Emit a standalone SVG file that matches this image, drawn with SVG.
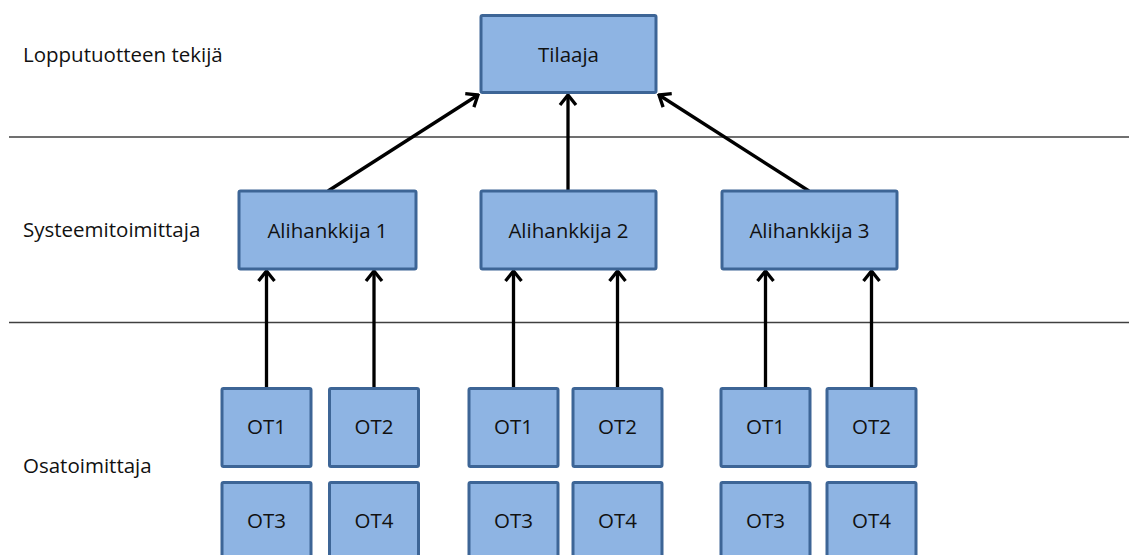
<svg xmlns="http://www.w3.org/2000/svg" width="1129" height="555" viewBox="0 0 1129 555">
  <style>
    .box { fill: #8eb4e3; stroke: #3d6596; stroke-width: 3; }
    .lbl { font-family: "Open Sans", "Liberation Sans", sans-serif; font-size: 20.5px; fill: #111; }
    .mid { text-anchor: middle; }
    .sep { stroke: #404040; stroke-width: 1.3; }
    .arr { stroke: #000; stroke-width: 3.3; fill: none; marker-end: url(#head); }
  </style>
  <defs>
    <marker id="head" viewBox="-14 -11 16 22" refX="0" refY="0" markerWidth="16" markerHeight="22" markerUnits="userSpaceOnUse" orient="auto">
      <path d="M-10,-8 L0,0 L-10,8" fill="none" stroke="#000" stroke-width="3.3" stroke-linejoin="miter"/>
    </marker>
  </defs>
  <rect width="1129" height="555" fill="#fff"/>

  <g id="separators">
    <line class="sep" x1="9" y1="137" x2="1129" y2="137"/>
    <line class="sep" x1="9" y1="322.5" x2="1129" y2="322.5"/>
  </g>

  <g id="level-labels">
    <text class="lbl" x="23" y="62">Lopputuotteen tekijä</text>
    <text class="lbl" x="23" y="237">Systeemitoimittaja</text>
    <text class="lbl" x="23" y="473">Osatoimittaja</text>
  </g>

  <g id="connectors">
    <line class="arr" x1="328" y1="191" x2="478" y2="95"/>
    <line class="arr" x1="568" y1="191" x2="568" y2="95"/>
    <line class="arr" x1="809" y1="191" x2="659" y2="95"/>
    <line class="arr" x1="266.5" y1="388" x2="266.5" y2="271"/>
    <line class="arr" x1="374" y1="388" x2="374" y2="271"/>
    <line class="arr" x1="513.5" y1="388" x2="513.5" y2="271"/>
    <line class="arr" x1="617.5" y1="388" x2="617.5" y2="271"/>
    <line class="arr" x1="765.5" y1="388" x2="765.5" y2="271"/>
    <line class="arr" x1="871.5" y1="388" x2="871.5" y2="271"/>
  </g>

  <g id="tilaaja">
    <rect class="box" x="481" y="15.5" width="175" height="77" rx="1.5"/>
    <text class="lbl mid" x="568.5" y="62">Tilaaja</text>
  </g>

  <g id="alihankkija1">
    <rect class="box" x="239" y="191" width="177" height="78" rx="1.5"/>
    <text class="lbl mid" x="327.5" y="238">Alihankkija 1</text>
  </g>
  <g id="alihankkija2">
    <rect class="box" x="481" y="191" width="175" height="78" rx="1.5"/>
    <text class="lbl mid" x="568.5" y="238">Alihankkija 2</text>
  </g>
  <g id="alihankkija3">
    <rect class="box" x="722" y="191" width="175" height="78" rx="1.5"/>
    <text class="lbl mid" x="809.5" y="238">Alihankkija 3</text>
  </g>

  <g id="g1-ot1"><rect class="box" x="222" y="388.5" width="89" height="78" rx="1.5"/><text class="lbl mid" x="266.5" y="434">OT1</text></g>
  <g id="g1-ot2"><rect class="box" x="329.5" y="388.5" width="89" height="78" rx="1.5"/><text class="lbl mid" x="374" y="434">OT2</text></g>
  <g id="g1-ot3"><rect class="box" x="222" y="482.5" width="89" height="80" rx="1.5"/><text class="lbl mid" x="266.5" y="528">OT3</text></g>
  <g id="g1-ot4"><rect class="box" x="329.5" y="482.5" width="89" height="80" rx="1.5"/><text class="lbl mid" x="374" y="528">OT4</text></g>

  <g id="g2-ot1"><rect class="box" x="469" y="388.5" width="89" height="78" rx="1.5"/><text class="lbl mid" x="513.5" y="434">OT1</text></g>
  <g id="g2-ot2"><rect class="box" x="573" y="388.5" width="89" height="78" rx="1.5"/><text class="lbl mid" x="617.5" y="434">OT2</text></g>
  <g id="g2-ot3"><rect class="box" x="469" y="482.5" width="89" height="80" rx="1.5"/><text class="lbl mid" x="513.5" y="528">OT3</text></g>
  <g id="g2-ot4"><rect class="box" x="573" y="482.5" width="89" height="80" rx="1.5"/><text class="lbl mid" x="617.5" y="528">OT4</text></g>

  <g id="g3-ot1"><rect class="box" x="721" y="388.5" width="89" height="78" rx="1.5"/><text class="lbl mid" x="765.5" y="434">OT1</text></g>
  <g id="g3-ot2"><rect class="box" x="827" y="388.5" width="89" height="78" rx="1.5"/><text class="lbl mid" x="871.5" y="434">OT2</text></g>
  <g id="g3-ot3"><rect class="box" x="721" y="482.5" width="89" height="80" rx="1.5"/><text class="lbl mid" x="765.5" y="528">OT3</text></g>
  <g id="g3-ot4"><rect class="box" x="827" y="482.5" width="89" height="80" rx="1.5"/><text class="lbl mid" x="871.5" y="528">OT4</text></g>
</svg>
